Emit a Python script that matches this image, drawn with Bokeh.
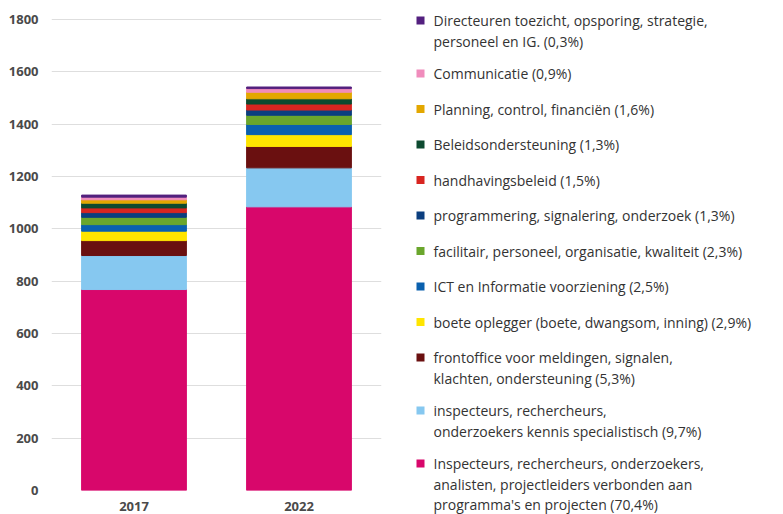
from bokeh.plotting import figure
from bokeh.models import ColumnDataSource, FactorRange, Range1d, FixedTicker
from bokeh.layouts import row
from bokeh.embed import file_html
from bokeh.resources import INLINE
from bokeh.core.properties import value

# ---------------- data ----------------
years = ["2017", "2022"]

# legend order, top to bottom
labels = [
    "Directeuren toezicht, opsporing, strategie,\npersoneel en IG. (0,3%)",
    "Communicatie (0,9%)",
    "Planning, control, financiën (1,6%)",
    "Beleidsondersteuning (1,3%)",
    "handhavingsbeleid (1,5%)",
    "programmering, signalering, onderzoek (1,3%)",
    "facilitair, personeel, organisatie, kwaliteit (2,3%)",
    "ICT en Informatie voorziening (2,5%)",
    "boete oplegger (boete, dwangsom, inning) (2,9%)",
    "frontoffice voor meldingen, signalen,\nklachten, ondersteuning (5,3%)",
    "inspecteurs, rechercheurs,\nonderzoekers kennis specialistisch (9,7%)",
    "Inspecteurs, rechercheurs, onderzoekers,\nanalisten, projectleiders verbonden aan\nprogramma's en projecten (70,4%)",
]
colors = [
    "#53207f", "#f08cbc", "#e3a700", "#0d4a30", "#d82520", "#0b3e7f",
    "#6aa62c", "#0a60ae", "#ffe500", "#6a1010", "#86c8f0", "#d8076b",
]
values_2017 = [8, 10, 13, 18, 18, 18, 28, 25, 36, 57, 130, 768]
values_2022 = [6, 14, 25, 20, 23, 20, 35, 39, 45, 82, 149, 1084]
y_ticks = [0, 200, 400, 600, 800, 1000, 1200, 1400, 1600, 1800]

FONT = "Open Sans"

# ---------------- layout geometry (pixels) ----------------
TOP_PAD = 19          # whitespace above the 1800 line
AXIS_PX = 471         # pixels between 0 and 1800
FRAME_H = TOP_PAD + AXIS_PX
BOTTOM = 24
LEFT = 51
FRAME_W = 330
RIGHT = 22
MAIN_W = LEFT + FRAME_W + RIGHT
TOTAL_H = FRAME_H + BOTTOM

ymax = y_ticks[-1]
y_end = ymax * FRAME_H / AXIS_PX

# ---------------- main chart ----------------
n = len(labels)
keys = [f"s{i}" for i in range(n)]
data = {"years": years}
for i, k in enumerate(keys):
    data[k] = [values_2017[i], values_2022[i]]
src = ColumnDataSource(data)

p = figure(x_range=FactorRange(*years), y_range=Range1d(0, y_end),
           frame_width=FRAME_W, frame_height=FRAME_H, title=None,
           min_border_left=LEFT, min_border_right=RIGHT, min_border_top=0,
           min_border_bottom=BOTTOM,
           output_backend="svg", toolbar_location=None)

stack_keys = keys[::-1]          # bottom first
stack_cols = colors[::-1]
p.vbar_stack(stack_keys, x="years", width=0.635, color=stack_cols, source=src)

p.outline_line_color = None
p.xgrid.grid_line_color = None
p.ygrid.grid_line_color = "#dedede"
p.ygrid.grid_line_width = 1
p.yaxis.ticker = FixedTicker(ticks=y_ticks)
for ax in (p.xaxis[0], p.yaxis[0]):
    ax.axis_line_color = None
    ax.major_tick_line_color = None
    ax.minor_tick_line_color = None
    ax.major_label_text_font = FONT
    ax.major_label_text_font_size = "13px"
    ax.major_label_text_font_style = "bold"
    ax.major_label_text_color = "#4a4a4a"
p.yaxis.major_label_standoff = 7
p.xaxis.major_label_standoff = 5

# ---------------- legend panel (coordinates = page pixels) ----------------
LW = 378
leg = figure(frame_width=LW, frame_height=TOTAL_H,
             x_range=Range1d(MAIN_W, MAIN_W + LW),
             y_range=Range1d(TOTAL_H, 0), title=None,
             x_axis_location=None, y_axis_location=None,
             min_border=0, output_backend="svg", toolbar_location=None)
leg.grid.visible = False
leg.outline_line_color = None

sq_x, sq_y, sq_c = [], [], []
tx, ty, tt = [], [], []
y = 20.0
for lab, col in zip(labels, colors):
    lines = lab.split("\n")
    sq_x.append(420)
    sq_y.append(y)
    sq_c.append(col)
    for j, ln in enumerate(lines):
        tx.append(433)
        ty.append(y + 20.5 * j)
        tt.append(ln)
    y += 35.5 + 17.5 * (len(lines) - 1)

leg.scatter(x=sq_x, y=sq_y, marker="square", size=8, fill_color=sq_c,
            line_color=None)
leg.text(x=tx, y=ty, text=tt, text_font=value(FONT), text_font_size="14px",
         text_baseline="middle", text_align="left", text_color="#333333")

layout = row(p, leg)
open("out.html", "w").write(file_html(layout, INLINE))
